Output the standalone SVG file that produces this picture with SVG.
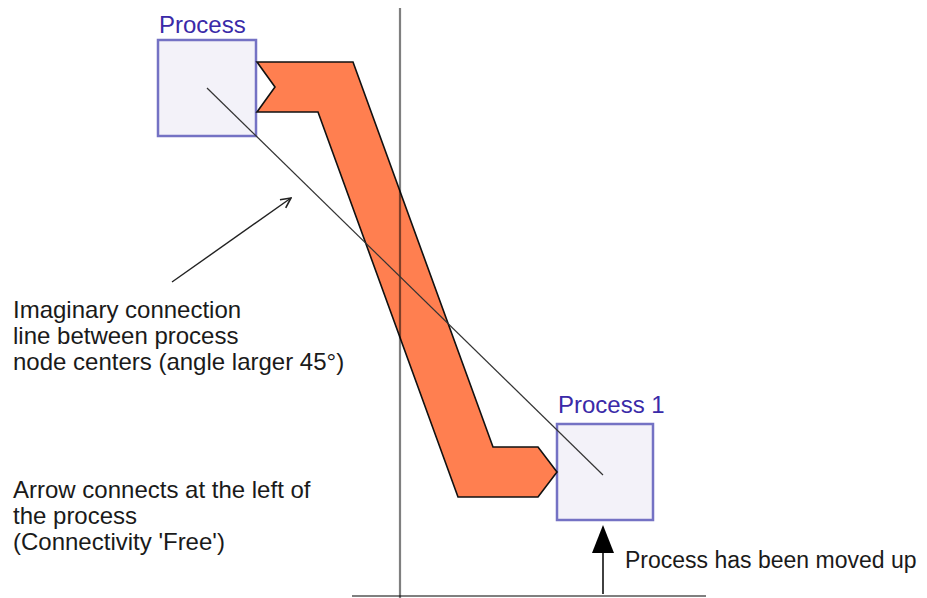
<svg xmlns="http://www.w3.org/2000/svg" width="927" height="598" viewBox="0 0 927 598">
<style>
.node rect{fill:#F3F2F9;stroke:#7472C4;stroke-width:2.5}
.lbl{font-family:"Liberation Sans",Arial,sans-serif;font-size:24px;fill:#3A2AA8}
.txt{font-family:"Liberation Sans",Arial,sans-serif;font-size:24px;fill:#1a1a1a}
</style>
<defs>
<marker id="open" viewBox="0 0 12 12" refX="11" refY="6" markerWidth="12" markerHeight="12" markerUnits="userSpaceOnUse" orient="auto">
<path d="M1,1 L11,6 L1,11" fill="none" stroke="#222" stroke-width="1.6"/>
</marker>
</defs>
<rect width="927" height="598" fill="#fff"/>
<g id="n1" class="node">
<rect x="158" y="40" width="98" height="96"/>
<text class="lbl" x="159" y="33">Process</text>
</g>
<g id="n2" class="node">
<rect x="557" y="424" width="96" height="96"/>
<text class="lbl" x="558" y="413">Process 1</text>
</g>
<g id="connectors">
<polygon points="257,62 353,62 493,447 538,447 557,472 538,497 458,497 318,112 257,112 275,87" fill="#FF7F50" stroke="#111" stroke-width="1.6" stroke-linejoin="miter"/>
<line x1="400" y1="8" x2="400" y2="598" stroke="#000" stroke-opacity="0.5" stroke-width="2.2"/>
<line x1="352" y1="596" x2="706" y2="596" stroke="#000" stroke-opacity="0.5" stroke-width="2.2"/>
<line x1="207" y1="88" x2="603" y2="475" stroke="#333" stroke-width="1.2"/>
<line x1="172" y1="282" x2="291" y2="198" stroke="#222" stroke-width="1.4" marker-end="url(#open)"/>
<line x1="603" y1="594" x2="603" y2="550" stroke="#111" stroke-width="1.6"/>
<path d="M603,525 L614,553 L592,553 Z" fill="#000"/>
</g>
<text class="txt" x="13" y="318">Imaginary connection</text>
<text class="txt" x="13" y="344">line between process</text>
<text class="txt" x="13" y="370">node centers (angle larger 45°)</text>
<text class="txt" x="13" y="498">Arrow connects at the left of</text>
<text class="txt" x="13" y="524">the process</text>
<text class="txt" x="13" y="550">(Connectivity 'Free')</text>
<text class="txt" x="625" y="568" style="font-size:23px">Process has been moved up</text>
</svg>
